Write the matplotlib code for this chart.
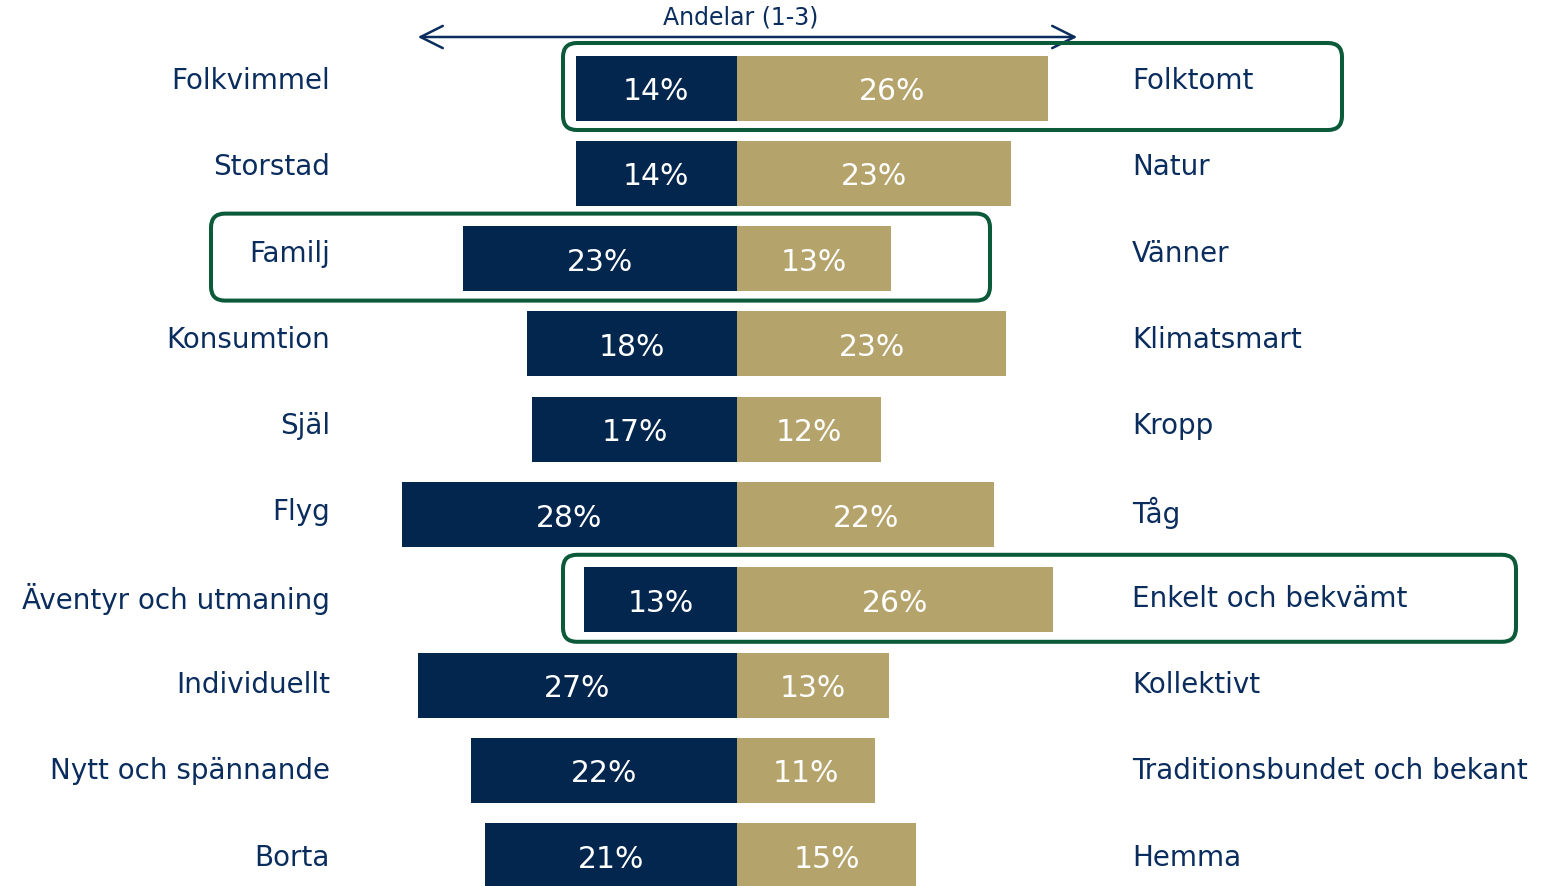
import matplotlib
matplotlib.use("Agg")
import matplotlib.pyplot as plt
from matplotlib.patches import FancyBboxPatch, FancyArrowPatch

# ---- data ----
left_labels = ["Folkvimmel", "Storstad", "Familj", "Konsumtion", "Själ", "Flyg",
               "Äventyr och utmaning", "Individuellt", "Nytt och spännande", "Borta"]
right_labels = ["Folktomt", "Natur", "Vänner", "Klimatsmart", "Kropp", "Tåg",
                "Enkelt och bekvämt", "Kollektivt", "Traditionsbundet och bekant", "Hemma"]
left_values = [13.5, 13.5, 22.9, 17.6, 17.1, 28.0, 12.8, 26.7, 22.2, 21.1]
right_values = [26.0, 22.9, 12.9, 22.5, 12.0, 21.5, 26.4, 12.7, 11.5, 15.0]
left_text = ["14%", "14%", "23%", "18%", "17%", "28%", "13%", "27%", "22%", "21%"]
right_text = ["26%", "23%", "13%", "23%", "12%", "22%", "26%", "13%", "11%", "15%"]
axis_title = "Andelar (1-3)"
highlight_rows = [0, 2, 6]

NAVY = "#03264f"
GOLD = "#b4a36b"
TEXT = "#0a2d5e"
GREEN = "#0b5a3a"

W, H = 1545, 887
fig = plt.figure(figsize=(W / 100, H / 100), dpi=100)

# main axes spans whole figure; x in percent, y in row index
px_per_pct = 11.96
cx = 737.0
row0 = 89.0
row_h = 85.3
ax = fig.add_axes([0, 0, 1, 1])
ax.set_xlim(-cx / px_per_pct, (W - cx) / px_per_pct)
ax.set_ylim((H - row0) / row_h, -row0 / row_h)
ax.axis("off")

n = len(left_labels)
ys = list(range(n))
bh = 65 / row_h
ax.barh(ys, [-v for v in left_values], height=bh, color=NAVY, zorder=2)
ax.barh(ys, right_values, height=bh, color=GOLD, zorder=2)

lab0, lab_step = 81.0, 86.3
for i in ys:
    ax.text(-left_values[i] / 2, i + 0.03, left_text[i], color="white",
            fontsize=21.5, ha="center", va="center", zorder=3)
    ax.text(right_values[i] / 2, i + 0.03, right_text[i], color="white",
            fontsize=21.5, ha="center", va="center", zorder=3)
    yl = (lab0 + lab_step * i - row0) / row_h
    ax.text((330 - cx) / px_per_pct, yl, left_labels[i], color=TEXT,
            fontsize=20, ha="right", va="center")
    ax.text((1132 - cx) / px_per_pct, yl, right_labels[i], color=TEXT,
            fontsize=20, ha="left", va="center")

# overlay in pixel coordinates for annotations
ov = fig.add_axes([0, 0, 1, 1], facecolor="none")
ov.set_xlim(0, W)
ov.set_ylim(H, 0)
ov.axis("off")

arrow = FancyArrowPatch((415, 38), (1080, 38), arrowstyle="<->,head_length=16,head_width=8",
                        color=TEXT, lw=1.8, mutation_scale=1)
ov.add_patch(arrow)
ov.text(741, 18, axis_title, color=TEXT, fontsize=17, ha="center", va="center")

boxes = {0: (563, 1342), 2: (211, 990), 6: (563, 1516)}
for r in highlight_rows:
    x0, x1 = boxes[r]
    yc = row0 + r * row_h
    y0, y1 = yc - 45, yc + 42
    p = FancyBboxPatch((x0, y0), x1 - x0, y1 - y0,
                       boxstyle="round,pad=0,rounding_size=14",
                       fill=False, ec=GREEN, lw=2.9, zorder=5)
    ov.add_patch(p)

fig.savefig("out.png", dpi=100)
